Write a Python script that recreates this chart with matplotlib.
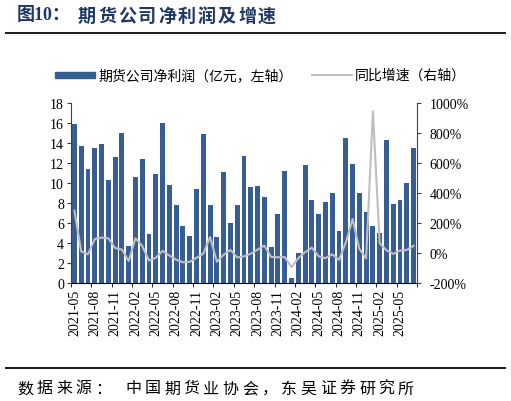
import numpy as np
import matplotlib
matplotlib.use('Agg')
import matplotlib.pyplot as plt
from matplotlib.patches import Rectangle
from matplotlib.lines import Line2D
from matplotlib.ticker import FuncFormatter

# 期货公司净利润（亿元），2021-05 ~ 2025-07 monthly
profit = [15.9, 13.75, 11.4, 13.5, 13.9, 10.3, 12.6, 15.0, 3.73, 10.65,
          12.4, 4.97, 10.88, 16.0, 9.8, 7.83, 5.68, 4.77, 9.4, 14.9,
          7.77, 4.58, 11.1, 6.05, 7.8, 12.7, 9.57, 9.75, 8.57, 3.67,
          6.9, 11.17, 0.55, 3.0, 11.82, 8.33, 6.88, 8.15, 9.03, 5.25,
          14.48, 11.88, 9.0, 7.1, 5.73, 5.05, 14.28, 7.95, 8.27, 9.98, 13.54]
# 同比增速（%）
yoy = [284, 12, -7, 95, 104, 100, 35, 25, -52, 100,
       48, -49, -30, 16, -15, -43, -60, -57, -30, -3,
       108, -57, -10, 22, -28, -21, -3, 24, 50, -24,
       -27, -25, -92, -33, 7, 37, -20, -33, -7, -44,
       70, 228, 30, -35, 945, 66, 20, -4, 18, 22, 50]
tick_labels = ['2021-05', '2021-08', '2021-11', '2022-02', '2022-05', '2022-08',
               '2022-11', '2023-02', '2023-05', '2023-08', '2023-11', '2024-02',
               '2024-05', '2024-08', '2024-11', '2025-02', '2025-05']

W, H = 511, 402
cjk = ['Noto Sans CJK SC', 'DejaVu Sans']
serif = 'Liberation Serif'
bar_color = '#375E92'
line_color = '#BFBFBF'
title_color = '#1F3864'

fig = plt.figure(figsize=(W / 100, H / 100), dpi=100)


def fx(px):
    return px / W


def fy(py):
    return 1 - py / H


def spaced_text(s, x0, y, step, **kw):
    # place characters one by one to mimic the wide letter spacing
    for k, ch in enumerate(s):
        fig.text(fx(x0 + k * step), fy(y), ch, ha='left', va='center', **kw)


# title
fig.text(fx(17), fy(16), '图10：', ha='left', va='center', fontsize=13,
         fontweight='bold', color=title_color, family=[serif, 'Noto Sans CJK SC'])
spaced_text('期货公司净利润及增速', 78, 16, 20, fontsize=13, fontweight='bold',
            color=title_color, family=cjk)
fig.add_artist(Line2D([fx(6), fx(505)], [fy(34), fy(34)], color='#1a1a1a', lw=1.4))

# legend drawn by hand
fig.add_artist(Rectangle((fx(55), fy(79)), fx(40), 6 / H, color=bar_color))
fig.text(fx(98), fy(76), '期货公司净利润（亿元，左轴）', ha='left', va='center',
         fontsize=10, family=cjk)
fig.add_artist(Line2D([fx(312), fx(352)], [fy(76), fy(76)], color=line_color, lw=1.4))
fig.text(fx(355), fy(76), '同比增速（右轴）', ha='left', va='center',
         fontsize=10, family=cjk)

# main axes
ax = fig.add_axes([fx(71), fy(284.3), (417 - 71) / W, (284.3 - 104) / H])
x = np.arange(len(profit))
ax.bar(x, profit, width=0.72, color=bar_color)
ax.set_xlim(-0.5, len(profit) - 0.5)
ax.set_ylim(0, 18)
ax.set_yticks(np.arange(0, 19, 2))

ax2 = ax.twinx()
ax2.plot(x, yoy, color=line_color, lw=1.5)
ax2.set_ylim(-200, 1000)
ax2.set_yticks(np.arange(-200, 1001, 200))
ax2.yaxis.set_major_formatter(FuncFormatter(lambda v, p: f'{int(v)}%'))

for a in (ax, ax2):
    a.spines['top'].set_visible(False)
ax.spines['right'].set_visible(False)
ax2.spines['left'].set_visible(False)
ax2.spines['bottom'].set_visible(False)
ax.spines['left'].set_color('#404040')
ax2.spines['right'].set_color('#404040')
ax.spines['bottom'].set_color('#000000')

major = np.arange(0, len(profit), 3)
ax.set_xticks(major)
ax.set_xticklabels(tick_labels, rotation=90, fontsize=10, family=serif)
ax.set_xticks(list(major - 0.5) + [len(profit) - 0.5], minor=True)
ax.tick_params(axis='x', which='major', length=0, pad=4)
ax.tick_params(axis='x', which='minor', length=3, direction='out', color='#000000')
ax.tick_params(axis='y', length=3, pad=2, labelsize=10, color='#404040')
ax2.tick_params(axis='y', length=3, pad=6, labelsize=10, color='#404040')
for lbl in ax.get_yticklabels() + ax2.get_yticklabels():
    lbl.set_family(serif)

# footer
fig.add_artist(Line2D([fx(6), fx(505)], [fy(368.5), fy(368.5)], color='#1a1a1a', lw=1.4))
spaced_text('数据来源：', 17, 389, 19.5, fontsize=11.5, family=cjk)
spaced_text('中国期货业协会，东吴证券研究所', 125, 389, 19.5, fontsize=11.5, family=cjk)

fig.savefig('out.png', dpi=100)
